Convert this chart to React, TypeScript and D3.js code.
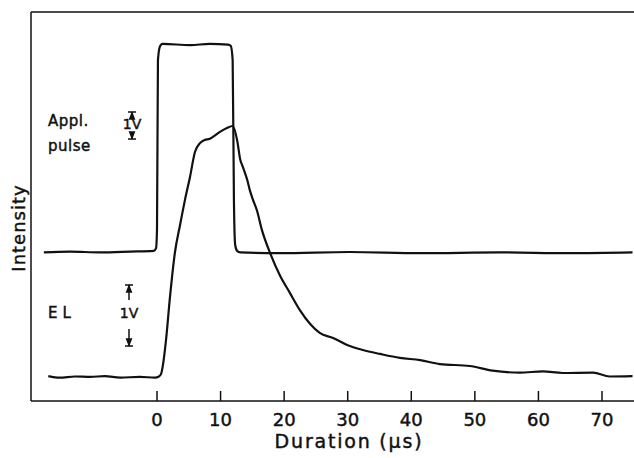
import React from "react";
import * as d3 from "d3";

// Time axis (µs) and intensity (arbitrary units, both traces share one vertical scale)
const pulseTime = [-17.8, -13.7, -9.0, -4.2, -0.5, -0.15, 0, 0.15, 0.5, 0.9, 5.2, 8.3, 11.2, 11.6, 11.9, 12.1, 12.3, 12.6, 13.1, 19.3, 30.3, 41.4, 53.9, 64.9, 74.8];
const pulseValue = [38.2, 38.4, 38.2, 38.4, 38.6, 39.3, 44.0, 87.7, 91.3, 91.8, 91.5, 91.8, 91.6, 91.3, 87.7, 51.7, 40.1, 38.6, 38.2, 38.0, 38.3, 38.0, 38.2, 38.0, 38.2];

const elTime = [-17.1, -15.3, -12.9, -10.5, -8.2, -5.8, -2.7, -0.3, 0.3, 0.63, 0.94, 1.42, 2.04, 2.83, 3.62, 4.4, 5.19, 5.97, 6.76, 7.5, 8.3, 8.8, 9.9, 11.0, 11.9, 12.6, 13.1, 13.5, 14.2, 14.6, 15.1, 15.7, 16.5, 17.8, 19.3, 20.9, 22.5, 24.1, 25.6, 27.7, 29.9, 32.4, 35.1, 38.2, 41.4, 44.5, 49.2, 52.8, 57.1, 60.7, 63.8, 68.6, 71.2, 74.8];
const elValue = [6.4, 6.0, 6.3, 6.2, 6.4, 6.0, 6.2, 6.0, 6.3, 6.9, 9.3, 15.7, 26.7, 38.3, 45.2, 51.7, 57.6, 64.0, 66.3, 67.1, 67.4, 67.9, 69.2, 70.2, 70.7, 67.1, 62.0, 60.2, 56.8, 54.2, 51.7, 49.1, 44.0, 38.0, 32.4, 27.8, 23.3, 19.8, 17.5, 16.2, 14.4, 13.1, 12.1, 11.1, 10.5, 9.5, 9.0, 7.8, 7.3, 7.6, 7.2, 7.3, 6.3, 6.4];

const xTicks = [0, 10, 20, 30, 40, 50, 60, 70];

const W = 634;
const H = 458;
const left = 31;
const top = 12;
const bottom = 401;
const right = 634;

const FONT = "'DejaVu Sans', sans-serif";
const INK = "#111";

export default function App() {
  const x = d3.scaleLinear().domain([0, 70]).range([157, 602]);
  const y = d3.scaleLinear().domain([0, 100]).range([bottom, top]);

  const line = d3
    .line<[number, number]>()
    .x((d) => x(d[0]))
    .y((d) => y(d[1]))
    .curve(d3.curveMonotoneX);

  const pulse = pulseTime.map((t, i) => [t, pulseValue[i]] as [number, number]);
  const el = elTime.map((t, i) => [t, elValue[i]] as [number, number]);

  // Text drawn with a thin outline so the lettering reads heavier
  const ink = { fill: INK, stroke: INK, strokeWidth: 0.45 };

  // Vertical 1 V calibration marker
  const marker = (cx: number, y1: number, y2: number, textY: number, stemTop: number, stemBottom: number) => (
    <g>
      <g stroke={INK} strokeWidth={1.5} fill="none">
        <line x1={cx - 4} x2={cx + 4} y1={y1} y2={y1} />
        <line x1={cx} x2={cx} y1={y1} y2={stemTop} />
        <path d={`M${cx},${y1 + 1}L${cx - 2.3},${y1 + 7}L${cx + 2.3},${y1 + 7}Z`} fill={INK} />
        <line x1={cx - 4} x2={cx + 4} y1={y2} y2={y2} />
        <line x1={cx} x2={cx} y1={stemBottom} y2={y2} />
        <path d={`M${cx},${y2 - 1}L${cx - 2.3},${y2 - 7}L${cx + 2.3},${y2 - 7}Z`} fill={INK} />
      </g>
      <text x={cx} y={textY} textAnchor="middle" dominantBaseline="central" fontFamily={FONT} fontSize={14} {...ink}>
        1V
      </text>
    </g>
  );

  return (
    <div style={{ position: "absolute", left: 0, top: 0 }}>
      <svg width={W} height={H} style={{ display: "block", background: "#fff" }}>
        {/* frame: left, top and bottom edges */}
        <g stroke={INK} strokeWidth={1.5} fill="none">
          <line x1={left} x2={left} y1={top} y2={bottom} />
          <line x1={left} x2={right} y1={top} y2={top} />
          <line x1={left} x2={right} y1={bottom} y2={bottom} />
        </g>

        {/* x ticks and labels */}
        <g>
          {xTicks.map((t) => (
            <g key={t}>
              <line x1={x(t)} x2={x(t)} y1={bottom} y2={bottom - 10} stroke={INK} strokeWidth={1.5} />
              <text
                x={x(t)}
                y={419}
                textAnchor="middle"
                dominantBaseline="central"
                fontFamily={FONT}
                fontSize={18}
                {...ink}
              >
                {t}
              </text>
            </g>
          ))}
        </g>
        <text
          x={349}
          y={441}
          textAnchor="middle"
          dominantBaseline="central"
          fontFamily={FONT}
          fontSize={19}
          letterSpacing={1.8}
          {...ink}
        >
          Duration (µs)
        </text>
        <text
          transform={`translate(18,228) rotate(-90)`}
          textAnchor="middle"
          dominantBaseline="central"
          fontFamily={FONT}
          fontSize={18}
          letterSpacing={1}
          {...ink}
        >
          Intensity
        </text>

        {/* traces */}
        <path d={line(pulse) ?? ""} fill="none" stroke={INK} strokeWidth={2.2} strokeLinejoin="round" />
        <path d={line(el) ?? ""} fill="none" stroke={INK} strokeWidth={2.2} strokeLinejoin="round" />

        {/* trace labels */}
        <g fontFamily={FONT} fontSize={15}>
          <text x={48} y={121} dominantBaseline="central" letterSpacing={0.5} {...ink}>Appl.</text>
          <text x={48} y={146} dominantBaseline="central" letterSpacing={0.5} {...ink}>pulse</text>
          <text x={48} y={313} dominantBaseline="central" letterSpacing={5} {...ink}>EL</text>
        </g>

        {marker(132, 112, 139, 124, 119, 133)}
        {marker(129, 285, 346, 313, 300, 329)}
      </svg>
    </div>
  );
}
